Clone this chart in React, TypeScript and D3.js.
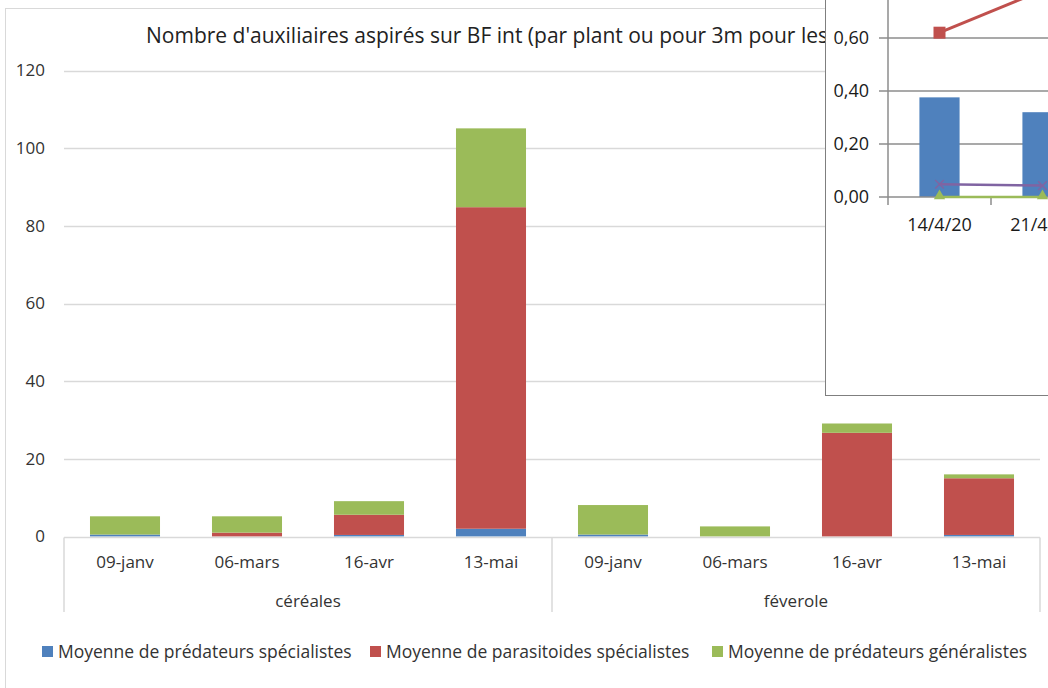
import React, { useRef, useEffect } from "react";
import * as d3 from "d3";

// main chart data
const dates = ["09-janv", "06-mars", "16-avr", "13-mai"];
const groups = ["céréales", "féverole"];
const predSpec = [0.5, 0, 0.4, 2.0, 0.5, 0, 0, 0.4];
const parasSpec = [0, 1.0, 5.2, 82.8, 0, 0, 26.7, 14.6];
const predGen = [4.7, 4.2, 3.5, 20.3, 7.6, 2.6, 2.4, 1.0];
const yTicks = [0, 20, 40, 60, 80, 100, 120];
const seriesNames = [
  "Moyenne de prédateurs spécialistes",
  "Moyenne de parasitoides spécialistes",
  "Moyenne de prédateurs généralistes",
];
const colors = ["#4F81BD", "#C0504D", "#9BBB59"];

// inset chart data (partly hidden window)
const insetDates = ["14/4/20", "21/4/20"];
const insetBars = [0.376, 0.32];
const insetRed = [0.62, 0.78];
const insetPurple = [0.048, 0.043];
const insetGreen = [0, 0];
const insetTicks = [0, 0.2, 0.4, 0.6];

const FONT = "'Open Sans', sans-serif";

export default function App() {
  const svgRef = useRef<SVGSVGElement>(null);

  useEffect(() => {
    const svg = d3.select(svgRef.current);
    svg.selectAll("*").remove();

    svg.append("rect").attr("width", 1048).attr("height", 688).attr("fill", "#fff");

    // chart frame
    svg.append("rect")
      .attr("x", 5.5).attr("y", 8.5).attr("width", 1100).attr("height", 700)
      .attr("fill", "none").attr("stroke", "#d9d9d9");

    const data = predSpec.map((_, i) => ({
      i,
      a: predSpec[i],
      b: parasSpec[i],
      c: predGen[i],
    }));

    const x = d3.scaleBand<number>()
      .domain(d3.range(data.length))
      .range([64, 1040])
      .paddingInner(0.426)
      .paddingOuter(0.213);
    const y = d3.scaleLinear().domain([0, 120]).range([536.5, 70.5]);

    // gridlines
    svg.append("g").selectAll("line")
      .data(yTicks.filter((t) => t > 0))
      .join("line")
      .attr("x1", 64).attr("x2", 1040)
      .attr("y1", (d) => Math.round(y(d)) + 0.5).attr("y2", (d) => Math.round(y(d)) + 0.5)
      .attr("stroke", "#d9d9d9").attr("stroke-width", 1.5);

    svg.append("g").selectAll("text")
      .data(yTicks)
      .join("text")
      .attr("x", 45).attr("y", (d) => y(d))
      .attr("dy", "0.35em")
      .attr("text-anchor", "end")
      .attr("font-family", FONT).attr("font-size", 17).attr("fill", "#333")
      .text((d) => d);

    // stacked bars
    const stack = d3.stack<any>().keys(["a", "b", "c"])(data);
    svg.append("g").selectAll("g")
      .data(stack)
      .join("g")
      .attr("fill", (_, k) => colors[k])
      .selectAll("rect")
      .data((s) => s)
      .join("rect")
      .attr("x", (d: any) => x(d.data.i)!)
      .attr("width", x.bandwidth())
      .attr("y", (d) => y(d[1]))
      .attr("height", (d) => Math.max(0, y(d[0]) - y(d[1])));

    // category axis
    const axisY = Math.round(y(0)) + 0.5;
    const step = x.step();
    const ax = svg.append("g").attr("stroke", "#d9d9d9").attr("stroke-width", 1.5);
    ax.append("line").attr("x1", 64).attr("x2", 1040).attr("y1", axisY).attr("y2", axisY);
    groups.forEach((_, g) => {
      ax.append("line")
        .attr("x1", 64 + g * 4 * step).attr("x2", 64 + g * 4 * step)
        .attr("y1", axisY).attr("y2", 612);
    });
    ax.append("line").attr("x1", 1040).attr("x2", 1040).attr("y1", axisY).attr("y2", 612);

    svg.append("g").selectAll("text")
      .data(data)
      .join("text")
      .attr("x", (d) => x(d.i)! + x.bandwidth() / 2)
      .attr("y", 568)
      .attr("text-anchor", "middle")
      .attr("font-family", FONT).attr("font-size", 17).attr("fill", "#333")
      .text((d) => dates[d.i % dates.length]);

    svg.append("g").selectAll("text")
      .data(groups)
      .join("text")
      .attr("x", (_, g) => 64 + (g + 0.5) * 4 * step)
      .attr("y", 607)
      .attr("text-anchor", "middle")
      .attr("font-family", FONT).attr("font-size", 17).attr("fill", "#333")
      .text((d) => d);

    // legend
    const legX = [42, 370, 712];
    const leg = svg.append("g").selectAll("g")
      .data(seriesNames)
      .join("g")
      .attr("transform", (_, k) => `translate(${legX[k]},652)`);
    leg.append("rect").attr("x", 0).attr("y", -6).attr("width", 11).attr("height", 11)
      .attr("fill", (_, k) => colors[k]);
    leg.append("text").attr("x", 16).attr("dy", "0.35em")
      .attr("font-family", FONT).attr("font-size", 17.5).attr("fill", "#333")
      .text((d) => d);

    // title
    svg.append("text")
      .attr("x", 146).attr("y", 43)
      .attr("font-family", FONT).attr("font-size", 21).attr("fill", "#222")
      .text("Nombre d'auxiliaires aspirés sur BF int (par plant ou pour 3m pour les céréales)");

    // ---- overlapping inset chart window ----
    const ins = svg.append("g");
    ins.append("rect")
      .attr("x", 825.5).attr("y", -10).attr("width", 400).attr("height", 405.5)
      .attr("fill", "#fff").attr("stroke", "#7f7f7f");

    const iy = d3.scaleLinear().domain([0, 0.8]).range([197, -15]);
    const ix = d3.scaleBand<string>().domain(insetDates).range([888, 888 + 103 * insetDates.length])
      .paddingInner(0.61).paddingOuter(0.305);
    const icx = (d: string) => ix(d)! + ix.bandwidth() / 2;

    ins.append("g").selectAll("line")
      .data([...insetTicks.filter((t) => t > 0), 0.8])
      .join("line")
      .attr("x1", 888).attr("x2", 1100)
      .attr("y1", (d) => iy(d)).attr("y2", (d) => iy(d))
      .attr("stroke", "#8c8c8c").attr("stroke-width", 1.5);

    ins.append("g").selectAll("rect")
      .data(insetDates)
      .join("rect")
      .attr("x", (d) => ix(d)!)
      .attr("width", ix.bandwidth())
      .attr("y", (_, k) => iy(insetBars[k]))
      .attr("height", (_, k) => iy(0) - iy(insetBars[k]))
      .attr("fill", "#4F81BD");

    // axes
    const ia = ins.append("g").attr("stroke", "#8c8c8c").attr("stroke-width", 1.5);
    ia.append("line").attr("x1", 888).attr("x2", 888).attr("y1", -10).attr("y2", 205);
    ia.append("line").attr("x1", 888).attr("x2", 1100).attr("y1", iy(0)).attr("y2", iy(0));
    insetTicks.forEach((t) => {
      ia.append("line").attr("x1", 879).attr("x2", 888).attr("y1", iy(t)).attr("y2", iy(t));
    });
    insetDates.forEach((d) => {
      const xe = ix(d)! - (ix.step() - ix.bandwidth()) / 2 + ix.step();
      ia.append("line").attr("x1", xe).attr("x2", xe).attr("y1", iy(0)).attr("y2", 205);
    });

    ins.append("g").selectAll("text")
      .data(insetTicks)
      .join("text")
      .attr("x", 869).attr("y", (d) => iy(d)).attr("dy", "0.35em")
      .attr("text-anchor", "end")
      .attr("font-family", FONT).attr("font-size", 18).attr("fill", "#1a1a1a")
      .text((d) => d3.format(".2f")(d).replace(".", ","));

    ins.append("g").selectAll("text")
      .data(insetDates)
      .join("text")
      .attr("x", (d) => icx(d)).attr("y", 231)
      .attr("text-anchor", "middle")
      .attr("font-family", FONT).attr("font-size", 18).attr("fill", "#1a1a1a")
      .text((d) => d);

    const line = (vals: number[]) =>
      d3.line<string>().x((d) => icx(d)).y((_, k) => iy(vals[k]))(insetDates);

    ins.append("path").attr("d", line(insetGreen)).attr("fill", "none")
      .attr("stroke", "#9BBB59").attr("stroke-width", 2.5);
    ins.append("g").selectAll("path")
      .data(insetDates)
      .join("path")
      .attr("d", d3.symbol(d3.symbolTriangle, 55)())
      .attr("transform", (d, k) => `translate(${icx(d)},${iy(insetGreen[k]) - 1})`)
      .attr("fill", "#9BBB59");

    ins.append("path").attr("d", line(insetPurple)).attr("fill", "none")
      .attr("stroke", "#8064A2").attr("stroke-width", 2.5);
    ins.append("g").selectAll("path")
      .data(insetDates)
      .join("path")
      .attr("d", d3.symbol(d3.symbolX, 50)())
      .attr("transform", (d, k) => `translate(${icx(d)},${iy(insetPurple[k])})`)
      .attr("fill", "none").attr("stroke", "#8064A2").attr("stroke-width", 1.5);

    ins.append("path").attr("d", line(insetRed)).attr("fill", "none")
      .attr("stroke", "#C0504D").attr("stroke-width", 3);
    ins.append("g").selectAll("rect")
      .data(insetDates)
      .join("rect")
      .attr("x", (d) => icx(d) - 6).attr("width", 12)
      .attr("y", (_, k) => iy(insetRed[k]) - 6).attr("height", 12)
      .attr("fill", "#C0504D");
  }, []);

  return (
    <svg
      ref={svgRef}
      width={1048}
      height={688}
      style={{ position: "absolute", left: 0, top: 0, display: "block" }}
    />
  );
}
